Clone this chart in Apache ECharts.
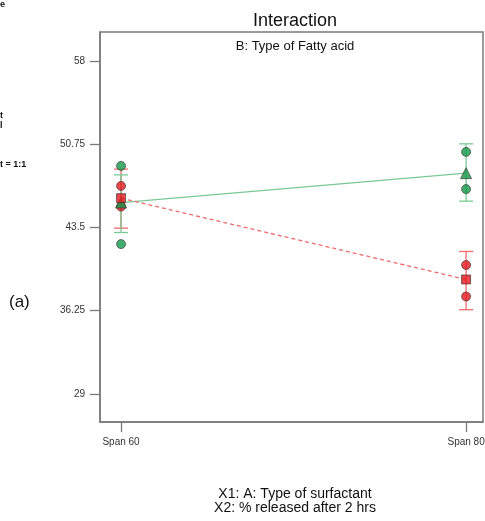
<!DOCTYPE html>
<html>
<head>
<meta charset="utf-8">
<script src="https://cdn.jsdelivr.net/npm/echarts@6/dist/echarts.min.js"></script>
<style>
  html, body { margin: 0; padding: 0; background: #fff; }
  #chart { width: 485px; height: 521px; }
</style>
</head>
<body>
<div id="chart"></div>
<script>
// Factor levels (A: Type of surfactant) and y-axis tick values
const categories = ['Span 60', 'Span 80'];
const yTicks = [29, 36.25, 43.5, 50.75, 58];

// B level 1 (red): predicted means, LSD bar limits and design points
const meanB1 = [46.05, 38.97];
const lsdLowB1 = [43.44, 36.34];
const lsdHighB1 = [48.58, 41.41];
const pointsB1Span60 = [47.12, 45.32];
const pointsB1Span80 = [40.23, 37.49];

// B level 2 (green): predicted means, LSD bar limits and design points
const meanB2 = [45.67, 48.23];
const lsdLowB2 = [43.06, 45.79];
const lsdHighB2 = [48.08, 50.78];
const pointsB2Span60 = [48.86, 42.05];
const pointsB2Span80 = [50.08, 46.84];

const RED = '#e3191f';
const RED_LINE = '#f06a6a';
const GREEN = '#12994a';
const GREEN_LINE = '#78c996';
const EDGE = '#3a2a2a';
const FONT = '"Liberation Sans", Arial, sans-serif';

function barData(low, high) {
  return categories.map((c, i) => [i, low[i], high[i]]);
}
function lineData(means) {
  return categories.map((c, i) => [i, means[i]]);
}
function pointData(span60, span80) {
  return span60.map(v => [0, v]).concat(span80.map(v => [1, v]));
}

function errorBar(color) {
  return function (params, api) {
    const x = api.value(0);
    const lo = api.coord([x, api.value(1)]);
    const hi = api.coord([x, api.value(2)]);
    const half = 7;
    const style = { stroke: color, lineWidth: 1.3 };
    return {
      type: 'group',
      children: [
        { type: 'line', shape: { x1: lo[0], y1: lo[1], x2: hi[0], y2: hi[1] }, style },
        { type: 'line', shape: { x1: lo[0] - half, y1: lo[1], x2: lo[0] + half, y2: lo[1] }, style },
        { type: 'line', shape: { x1: hi[0] - half, y1: hi[1], x2: hi[0] + half, y2: hi[1] }, style }
      ]
    };
  };
}

const chart = echarts.init(document.getElementById('chart'), null, { renderer: 'canvas' });

const axisGray = '#7a7a7a';

chart.setOption({
  animation: false,
  backgroundColor: '#ffffff',
  title: [
    {
      text: 'Interaction', left: 290, top: 7, textAlign: 'center',
      textStyle: { fontFamily: FONT, fontSize: 18, fontWeight: 'normal', color: '#111' }
    },
    {
      text: 'B: Type of Fatty acid', left: 290, top: 35, textAlign: 'center',
      textStyle: { fontFamily: FONT, fontSize: 13, fontWeight: 'normal', color: '#111' }
    },
    {
      text: 'X1: A: Type of surfactant\nX2: % released after 2 hrs', left: 290, top: 482, textAlign: 'center',
      textStyle: { fontFamily: FONT, fontSize: 14, fontWeight: 'normal', color: '#111', lineHeight: 14 }
    }
  ],
  graphic: [
    { type: 'text', left: 0, top: 0, style: { text: 'e', font: 'bold 9px ' + FONT, fill: '#111' } },
    { type: 'text', left: 0, top: 111, style: { text: 't', font: 'bold 9px ' + FONT, fill: '#111' } },
    { type: 'text', left: 0, top: 121, style: { text: 'l', font: 'bold 9px ' + FONT, fill: '#111' } },
    { type: 'text', left: 0, top: 160, style: { text: 't = 1:1', font: 'bold 9px ' + FONT, fill: '#111' } },
    { type: 'text', left: 9, top: 294, style: { text: '(a)', font: '17px ' + FONT, fill: '#111' } }
  ],
  grid: {
    left: 100, top: 32, right: 2, bottom: 99,
    outerBoundsMode: 'none',
    show: true, borderColor: axisGray, borderWidth: 1.5
  },
  xAxis: {
    type: 'value',
    min: -0.061, max: 1.049,
    axisLine: { show: true, onZero: false, lineStyle: { color: axisGray, width: 1.5 } },
    splitLine: { show: false },
    axisTick: { show: true, customValues: [0, 1], length: 10, lineStyle: { color: axisGray, width: 1.3 } },
    axisLabel: {
      customValues: [0, 1], margin: 15,
      formatter: v => categories[Math.round(v)],
      fontFamily: FONT, fontSize: 10, color: '#333'
    }
  },
  yAxis: {
    type: 'value',
    min: 26.56, max: 60.52,
    axisLine: { show: true, onZero: false, lineStyle: { color: axisGray, width: 1.5 } },
    splitLine: { show: false },
    axisTick: { show: true, customValues: yTicks, length: 10, lineStyle: { color: axisGray, width: 1.3 } },
    axisLabel: {
      customValues: yTicks, margin: 15,
      formatter: v => String(v),
      fontFamily: FONT, fontSize: 10, color: '#333'
    }
  },
  series: [
    {
      name: 'B1 LSD', type: 'custom', renderItem: errorBar(RED_LINE),
      data: barData(lsdLowB1, lsdHighB1), z: 2
    },
    {
      name: 'B2 LSD', type: 'custom', renderItem: errorBar(GREEN_LINE),
      data: barData(lsdLowB2, lsdHighB2), z: 3
    },
    {
      name: 'B2 mean line', type: 'line', data: lineData(meanB2), showSymbol: false,
      lineStyle: { color: GREEN_LINE, width: 1.3, type: 'solid' }, z: 4
    },
    {
      name: 'B1 mean line', type: 'line', data: lineData(meanB1), showSymbol: false,
      lineStyle: { color: RED_LINE, width: 1.3, type: [4, 3] }, z: 4
    },
    {
      name: 'B2 points', type: 'scatter', data: pointData(pointsB2Span60, pointsB2Span80),
      symbol: 'circle', symbolSize: 9,
      itemStyle: { color: GREEN, borderColor: EDGE, borderWidth: 0.8 }, z: 5
    },
    {
      name: 'B1 points', type: 'scatter', data: pointData(pointsB1Span60, pointsB1Span80),
      symbol: 'circle', symbolSize: 9,
      itemStyle: { color: RED, borderColor: EDGE, borderWidth: 0.8 }, z: 5
    },
    {
      name: 'B2 mean', type: 'scatter', data: lineData(meanB2),
      symbol: 'triangle', symbolSize: 11,
      itemStyle: { color: GREEN, borderColor: EDGE, borderWidth: 0.8 }, z: 6
    },
    {
      name: 'B1 mean', type: 'scatter', data: lineData(meanB1),
      symbol: 'rect', symbolSize: 9,
      itemStyle: { color: RED, borderColor: EDGE, borderWidth: 0.8 }, z: 7
    }
  ]
});
</script>
</body>
</html>
